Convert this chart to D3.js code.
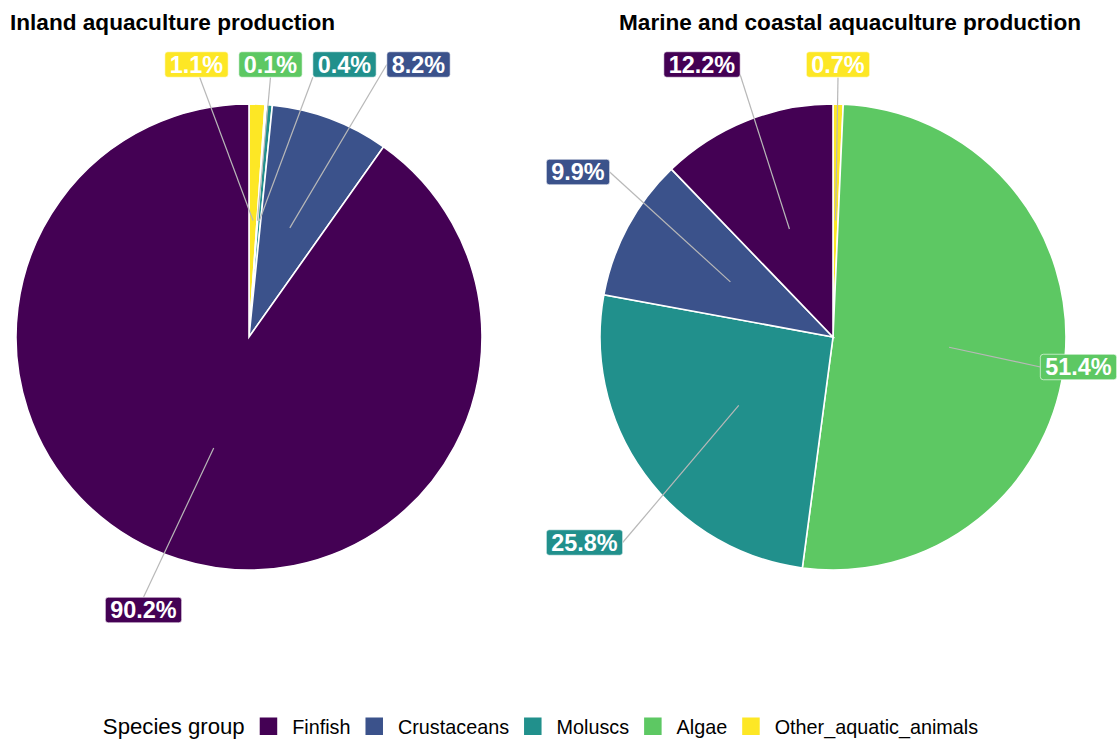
<!DOCTYPE html>
<html>
<head>
<meta charset="utf-8">
<script src="https://cdn.jsdelivr.net/npm/d3@7"></script>
<style>
  html, body { margin: 0; padding: 0; background: #fff; }
  svg { display: block; font-family: "Liberation Sans", Arial, sans-serif; }
</style>
</head>
<body>
<svg id="chart" width="1120" height="739"></svg>
<script>
// Species groups and their share (%) of production in each environment
const categories = ["Finfish", "Crustaceans", "Moluscs", "Algae", "Other_aquatic_animals"];
const inlandShare = [90.2, 8.2, 0.4, 0.1, 1.1];
const marineShare = [12.2, 9.9, 25.8, 51.4, 0.7];
const groupColors = ["#440154", "#3B528B", "#21908C", "#5DC863", "#FDE725"];
const panelTitles = ["Inland aquaculture production", "Marine and coastal aquaculture production"];
const legendTitle = "Species group";

// Panel geometry and repelled label placement (label centre, segment attach point as box fraction)
const panels = [
  {
    values: inlandShare, title: panelTitles[0], cx: 249, cy: 337, titleX: 10,
    labels: {
      Finfish: { x: 143.5, y: 610, ax: 0.5, ay: 0 },
      Crustaceans: { x: 418.5, y: 64.5, ax: 0, ay: 0.5 },
      Moluscs: { x: 344.5, y: 64.5, ax: 0, ay: 1 },
      Algae: { x: 270.5, y: 64.5, ax: 0.5, ay: 1 },
      Other_aquatic_animals: { x: 196.5, y: 64.5, ax: 0.55, ay: 1 }
    }
  },
  {
    values: marineShare, title: panelTitles[1], cx: 833, cy: 337, titleX: 619,
    labels: {
      Finfish: { x: 702, y: 64.5, ax: 1, ay: 0.9 },
      Crustaceans: { x: 578, y: 172, ax: 1, ay: 0.5 },
      Moluscs: { x: 584.5, y: 542.5, ax: 1, ay: 0.5 },
      Algae: { x: 1078.5, y: 367, ax: 0, ay: 0.5 },
      Other_aquatic_animals: { x: 838, y: 64.5, ax: 0.5, ay: 1 }
    }
  }
];

const radius = 233;
const svg = d3.select("#chart");
const color = d3.scaleOrdinal().domain(categories).range(groupColors);

// Slices run clockwise from 12 o'clock in reverse legend order
const drawOrder = categories.slice().reverse();
const pie = d3.pie().sort(null).value(d => d.value).startAngle(0).endAngle(2 * Math.PI);
const arc = d3.arc().innerRadius(0).outerRadius(radius);

panels.forEach(p => {
  const rows = drawOrder.map(c => ({ group: c, value: p.values[categories.indexOf(c)] }));
  const arcs = pie(rows);

  svg.append("text")
    .attr("x", p.titleX).attr("y", 30)
    .attr("font-size", 22.6).attr("font-weight", "bold").attr("fill", "#000")
    .text(p.title);

  const g = svg.append("g").attr("transform", `translate(${p.cx},${p.cy})`);
  g.selectAll("path.slice").data(arcs).join("path")
    .attr("class", "slice")
    .attr("d", arc)
    .attr("fill", d => color(d.data.group))
    .attr("stroke", "#fff").attr("stroke-width", 1.6);

  // Labels: measure text first, then box + leader segment
  const lg = svg.append("g");
  arcs.forEach(d => {
    const pos = p.labels[d.data.group];
    const [ax, ay] = arc.centroid(d);
    const anchorX = p.cx + ax, anchorY = p.cy + ay;
    const label = d.data.value.toFixed(1) + "%";

    const seg = lg.append("line");
    const box = lg.append("rect");
    const txt = lg.append("text")
      .attr("x", pos.x).attr("y", pos.y + 8.4)
      .attr("text-anchor", "middle")
      .attr("font-size", 23.4).attr("font-weight", "bold").attr("fill", "#fff")
      .text(label);
    const w = txt.node().getComputedTextLength() + 10;
    const h = 25.5;
    const x0 = pos.x - w / 2, y0 = pos.y - h / 2;
    box.attr("x", x0).attr("y", y0).attr("width", w).attr("height", h)
      .attr("rx", 3).attr("ry", 3)
      .attr("fill", color(d.data.group))
      .attr("stroke", "#fff").attr("stroke-width", 0.6);
    seg.attr("x1", anchorX).attr("y1", anchorY)
      .attr("x2", x0 + pos.ax * w).attr("y2", y0 + pos.ay * h)
      .attr("stroke", "#b8b8b8").attr("stroke-width", 1.2);
  });
});

// Legend along the bottom, centred
const legend = svg.append("g");
const baseY = 734, keySize = 17.5, gap = 15;
const items = [];
const titleNode = legend.append("text")
  .attr("y", baseY).attr("font-size", 22.2).attr("fill", "#000").text(legendTitle);
let total = titleNode.node().getComputedTextLength();
categories.forEach(c => {
  const t = legend.append("text").attr("y", baseY).attr("font-size", 19.8).attr("fill", "#000").text(c);
  const tw = t.node().getComputedTextLength();
  items.push({ c, t, tw });
  total += gap + keySize + gap + tw;
});
let cursor = 540.5 - total / 2;
titleNode.attr("x", cursor);
cursor += titleNode.node().getComputedTextLength();
items.forEach(it => {
  cursor += gap;
  legend.append("rect")
    .attr("x", cursor).attr("y", 717.5).attr("width", keySize).attr("height", keySize)
    .attr("fill", color(it.c));
  cursor += keySize + gap;
  it.t.attr("x", cursor);
  cursor += it.tw;
});
</script>
</body>
</html>
